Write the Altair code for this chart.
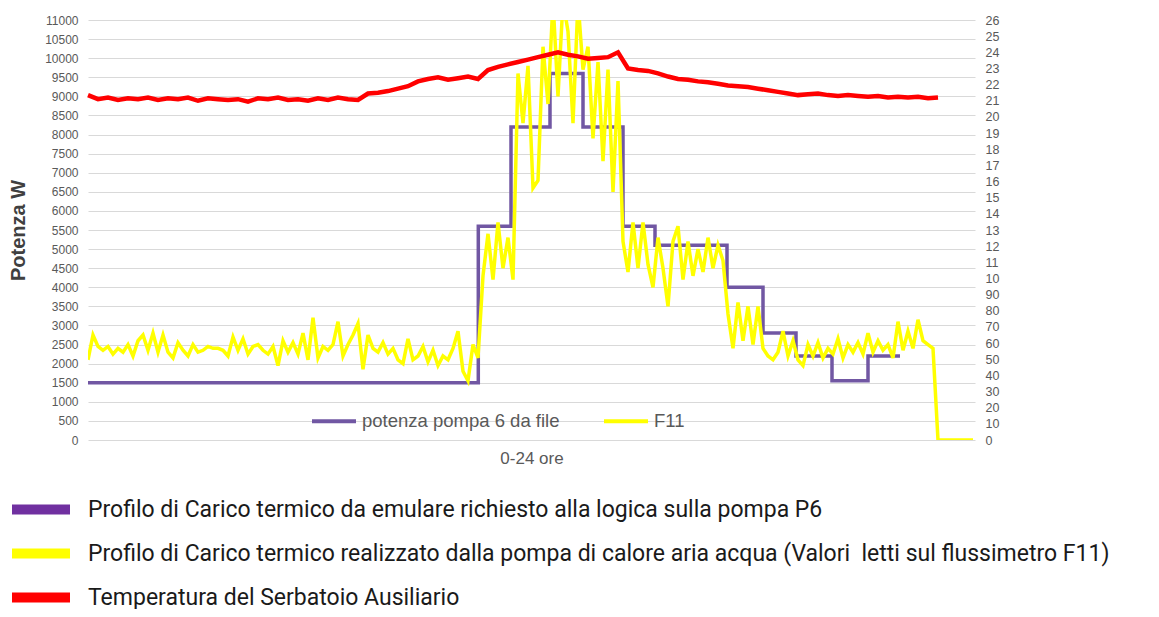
import json
import altair as alt
import pandas as pd

# ---------------- data ----------------
# x = sample index along the 0-24 h axis
P6_T = [0, 78.06, 84.6, 92.4, 99, 107, 113.4, 127.8, 135, 141.6, 148.8, 156, 162.4]
P6_W = [1500, 5600, 8200, 9600, 8200, 5600, 5100, 4000, 2800, 2200, 1550, 2200, 2200]

F11_W = [
    2100, 2750, 2450, 2350, 2450, 2250, 2400, 2300, 2500, 2200,
    2600, 2750, 2350, 2800, 2300, 2750, 2300, 2150, 2550, 2350,
    2200, 2500, 2300, 2350, 2450, 2400, 2400, 2350, 2200, 2700,
    2350, 2650, 2250, 2450, 2500, 2350, 2250, 2450, 1950, 2600,
    2300, 2550, 2250, 2800, 2100, 3200, 2150, 2450, 2350, 2500,
    3100, 2200, 2500, 2750, 3050, 1850, 2750, 2400, 2300, 2550,
    2250, 2400, 2100, 2000, 2650, 2100, 2200, 2450, 2050, 2350,
    1950, 2200, 2100, 2400, 2850, 1800, 1550, 2500, 2150,
    4300, 5400, 4200, 5700, 4500, 5300, 4200,
    9600, 8300, 9800, 6600, 6800, 10300, 8800, 11500, 9000, 11500,
    10700, 8300, 11500, 9700, 10300, 7900, 9900, 7300, 9700, 6500,
    9400, 5200, 4400, 5700, 4500, 5700, 4600, 4000, 5300, 4500,
    3500, 5200, 5600, 4200, 5200, 4300, 5000, 4400, 5300, 4500,
    5100, 4700, 3300, 2400, 3600, 2600, 3500, 2500, 3500, 2400,
    2200, 2100, 2300, 2850, 2200, 2600, 2100, 1950, 2500, 2200,
    2550, 2150, 2400, 2250, 2650, 2150, 2500, 2300, 2550, 2250,
    2800, 2300, 2600, 2350, 2500, 2150, 3100, 2350, 2850, 2400,
    3150, 2600, 2500, 2400, 0, 0, 0, 0, 0, 0,
    0, 0,
]

# temperature of the auxiliary tank (right axis), one value every 2 samples
TEMP_C = [
    21.35, 21.10, 21.20, 21.05, 21.15, 21.10, 21.20, 21.05, 21.15, 21.10,
    21.20, 21.00, 21.15, 21.10, 21.05, 21.10, 20.95, 21.15, 21.10, 21.20,
    21.05, 21.10, 21.00, 21.15, 21.05, 21.20, 21.10, 21.05, 21.45, 21.50,
    21.60, 21.75, 21.90, 22.20, 22.35, 22.45, 22.30, 22.40, 22.50, 22.35,
    22.90, 23.10, 23.25, 23.40, 23.55, 23.70, 23.85, 24.00, 23.85, 23.75,
    23.60, 23.65, 23.70, 24.00, 23.00, 22.90, 22.85, 22.70, 22.50, 22.35,
    22.30, 22.20, 22.15, 22.05, 21.95, 21.90, 21.85, 21.75, 21.65, 21.55,
    21.45, 21.35, 21.40, 21.45, 21.35, 21.30, 21.35, 21.30, 21.25, 21.30,
    21.20, 21.25, 21.20, 21.25, 21.15, 21.20,
]

LEFT_TICKS = list(range(0, 11001, 500))
RIGHT_TICKS = list(range(0, 27))
RIGHT_LABELS = ["0", "10", "20", "30", "40", "50", "60", "70", "80", "90",
                "10", "11", "12", "13", "14", "15", "16", "17", "18", "19",
                "20", "21", "22", "23", "24", "25", "26"]

INNER_LEGEND = ["potenza pompa 6 da file", "F11"]
BOTTOM_LEGEND = [
    "Profilo di Carico termico da emulare richiesto alla logica sulla pompa P6",
    "Profilo di Carico termico realizzato dalla pompa di calore aria acqua (Valori\u00a0 letti sul flussimetro F11)",
    "Temperatura del Serbatoio Ausiliario",
]

PURPLE = "#7157a3"
YELLOW = "#ffff00"
RED = "#ff0000"
GRID = "#d9d9d9"
GREY = "#595959"

# ---------------- frames ----------------
df_p6 = pd.DataFrame({"t": P6_T, "w": P6_W, "serie": INNER_LEGEND[0]})
df_f11 = pd.DataFrame({"t": list(range(len(F11_W))), "w": F11_W, "serie": INNER_LEGEND[1]})
df_temp = pd.DataFrame({"t": [2 * k for k in range(len(TEMP_C))], "temp": TEMP_C,
                        "descr": BOTTOM_LEGEND[2]})

x_enc = alt.X("t:Q", scale=alt.Scale(domain=[0, 177.4], nice=False, zero=False),
              axis=alt.Axis(title="0-24 ore", labels=False, ticks=False, domain=False,
                            grid=False, titleFontSize=17, titleFont="Liberation Sans",
                            titleFontWeight="normal", titleColor=GREY, titlePadding=10))

left_axis = alt.Axis(values=LEFT_TICKS, format="d", title="Potenza W", titleFontSize=20,
                     titleFont="Liberation Sans", titleFontWeight="bold",
                     titleColor="#404040", titlePadding=16, labelFontSize=12,
                     labelFont="Liberation Sans", labelColor=GREY, labelPadding=10,
                     ticks=False, domain=False, grid=True, gridColor=GRID, gridWidth=1)
y_left = alt.Y("w:Q", scale=alt.Scale(domain=[0, 11000], nice=False), axis=left_axis)

color_inner = alt.Color(
    "serie:N",
    scale=alt.Scale(domain=INNER_LEGEND, range=[PURPLE, YELLOW]),
    legend=alt.Legend(title=None, orient="none", direction="horizontal",
                      legendX=222, legendY=377, padding=0,
                      symbolType="stroke", symbolSize=1936, symbolStrokeWidth=4,
                      labelFontSize=18.5, labelFont="Liberation Sans", labelColor=GREY,
                      labelOffset=4, columnPadding=36, labelLimit=400),
)

p6 = alt.Chart(df_p6).mark_line(interpolate="step-after", strokeWidth=3.5).encode(
    x=x_enc, y=y_left, color=color_inner)
f11 = alt.Chart(df_f11).mark_line(strokeWidth=3.5, clip=True).encode(
    x=x_enc, y=y_left, color=color_inner)
left = alt.layer(p6, f11)

right_axis = alt.Axis(orient="right", values=RIGHT_TICKS, title=None,
                      labelExpr=json.dumps(RIGHT_LABELS) + "[datum.value]",
                      labelFontSize=12.5, labelFont="Liberation Sans", labelColor=GREY,
                      labelPadding=10, ticks=False, domain=False, grid=False)

temp = alt.Chart(df_temp).mark_line(strokeWidth=4.5).encode(
    x=x_enc,
    y=alt.Y("temp:Q", scale=alt.Scale(domain=[0, 26], nice=False), axis=right_axis),
    color=alt.Color(
        "descr:N",
        scale=alt.Scale(domain=BOTTOM_LEGEND, range=["#7030a0", YELLOW, RED]),
        legend=alt.Legend(title=None, orient="none", direction="vertical",
                          legendX=-66.5, legendY=470, padding=0,
                          symbolType="M-2,0L2,0",
                          symbolSize=841, symbolStrokeWidth=10, symbolOpacity=1,
                          labelFontSize=23, labelFont="Roboto", labelColor="#1a1a1a",
                          labelOffset=27.5, rowPadding=3, labelLimit=1200),
    ),
)

chart = (
    alt.layer(left, temp)
    .resolve_scale(y="independent", color="independent")
    .properties(width=887, height=420,
                autosize=alt.AutoSizeParams(type="none"),
                padding={"left": 80, "top": 12, "right": 176, "bottom": 169},
                background="white")
    .configure_view(stroke=None)
)

chart.save("out.html", embed_options={"renderer": "svg", "actions": False})
